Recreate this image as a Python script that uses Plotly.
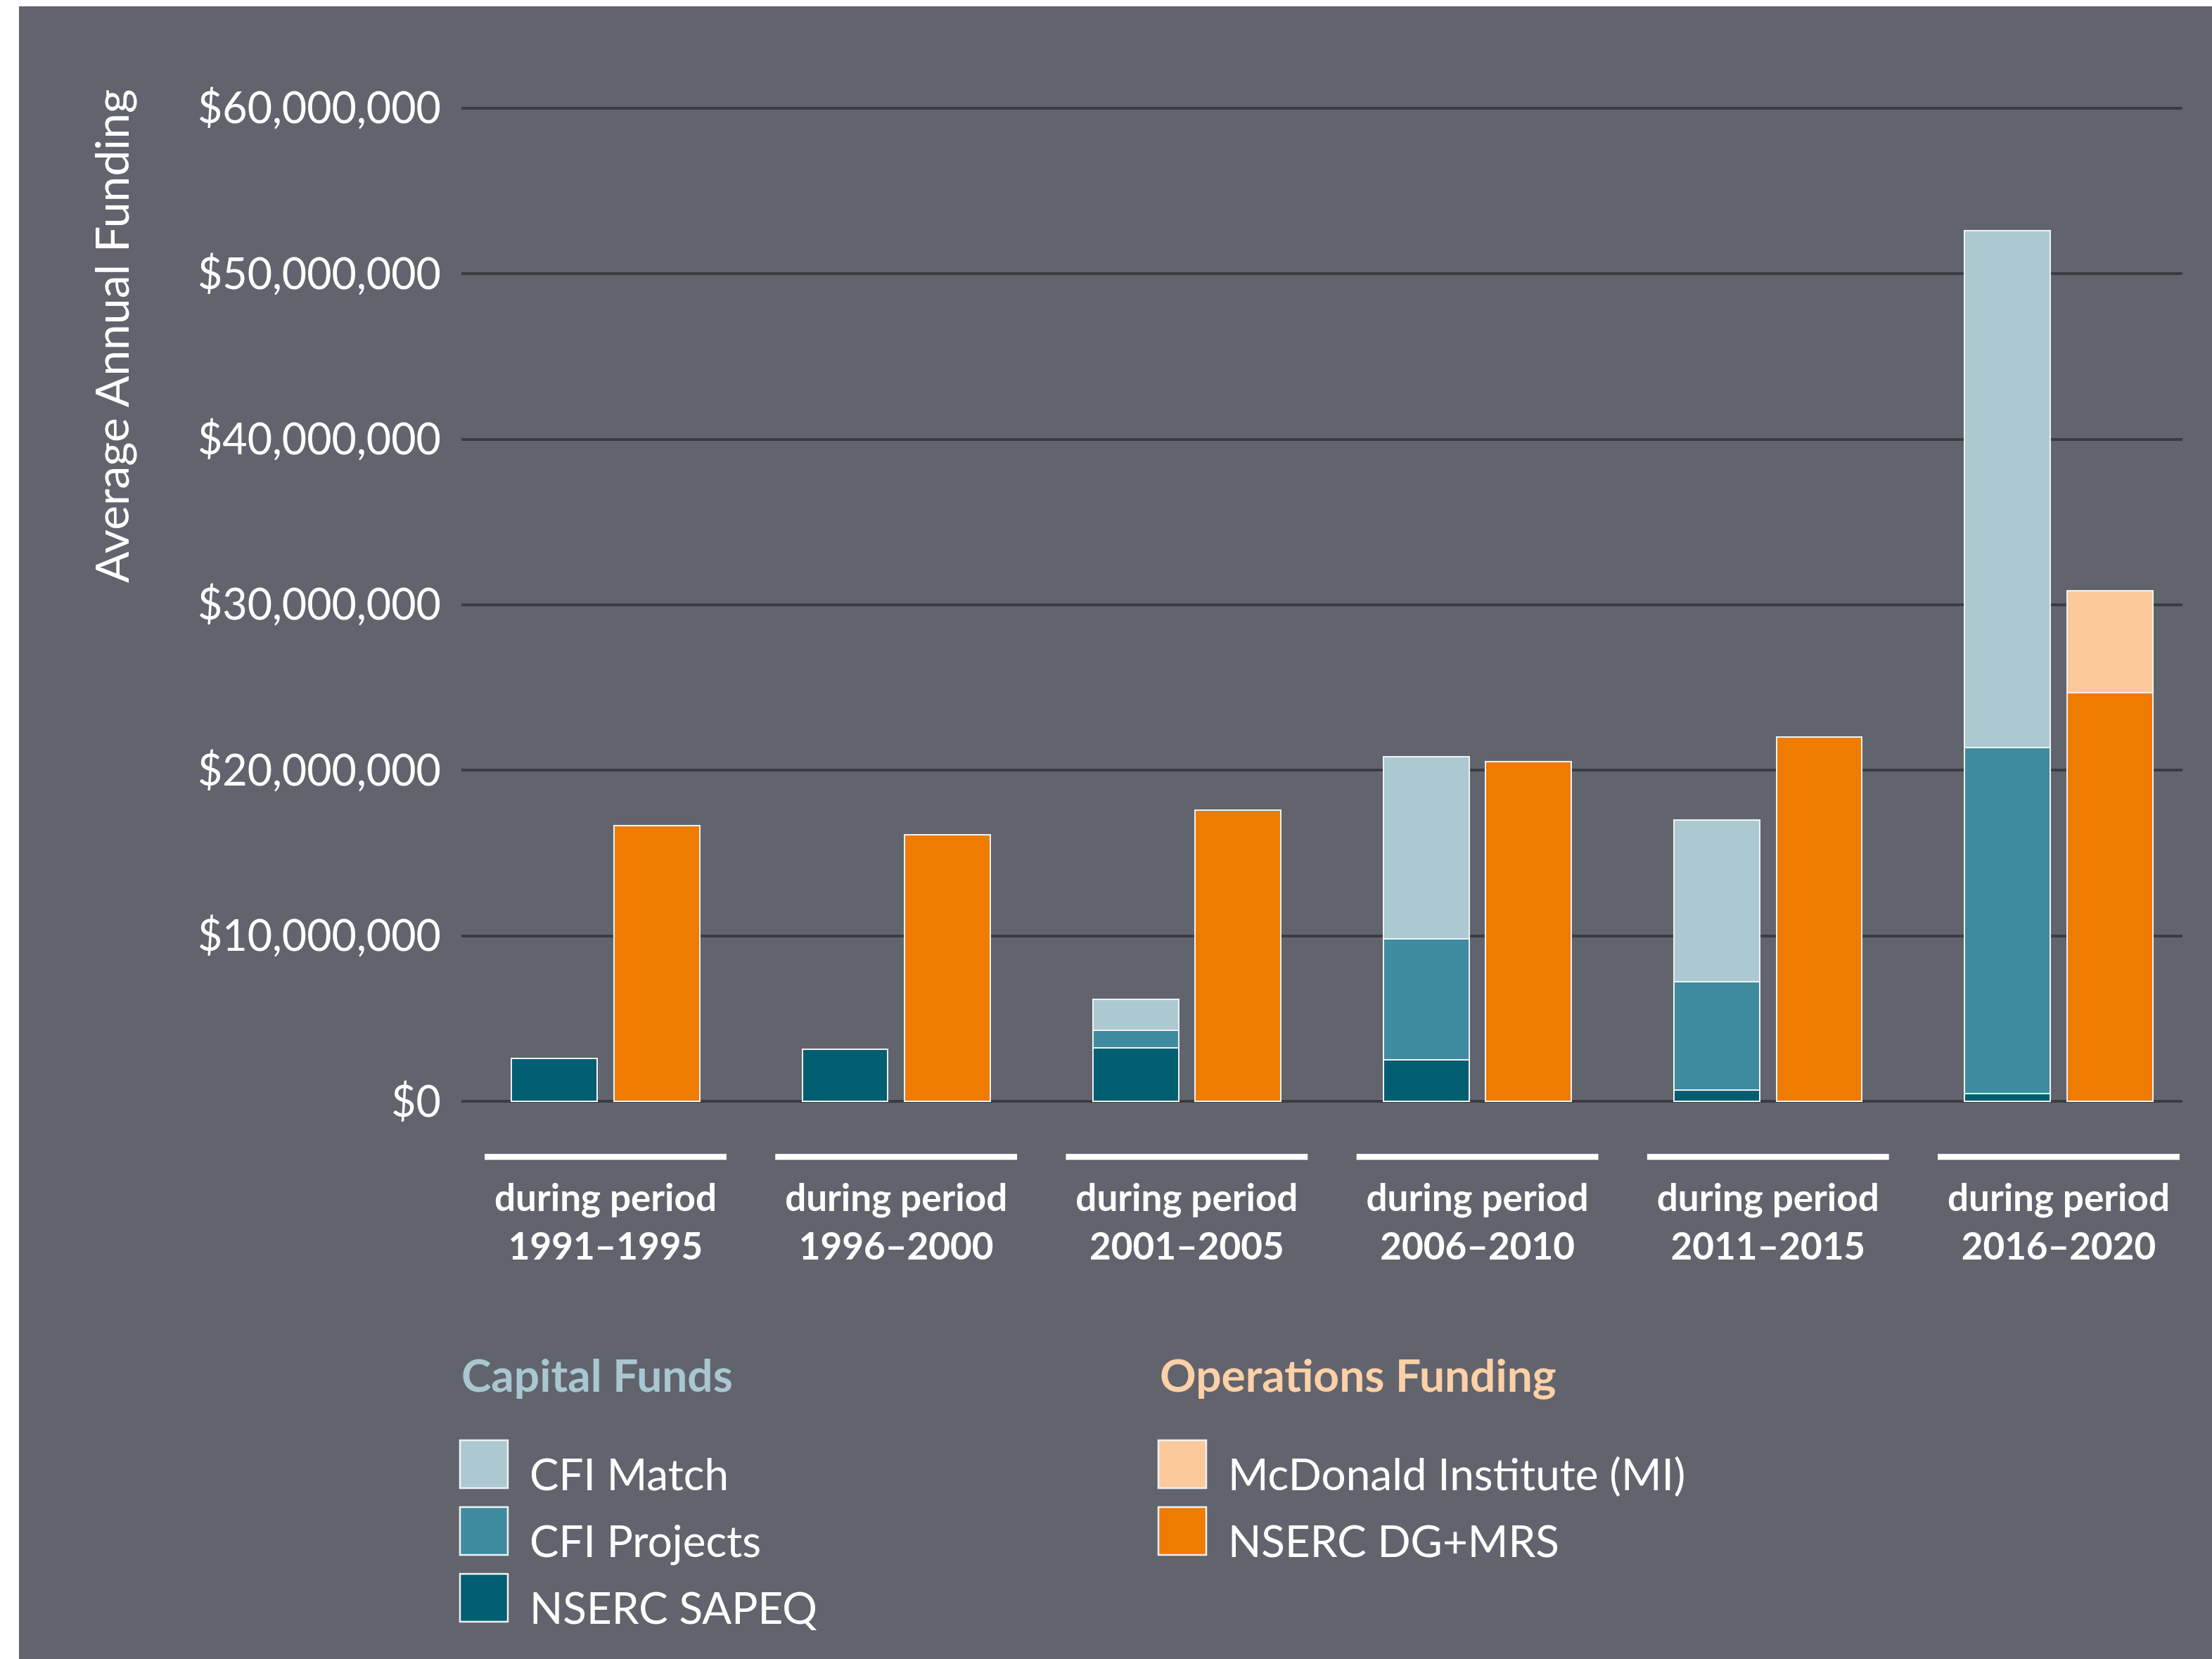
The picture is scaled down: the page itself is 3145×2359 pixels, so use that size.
import plotly.graph_objects as go

# ---- data (average annual funding, CAD) ----
periods = ["1991–1995", "1996–2000", "2001–2005", "2006–2010", "2011–2015", "2016–2020"]

nserc_sapeq = [2_620_000, 3_160_000, 3_230_000, 2_500_000, 670_000, 490_000]
cfi_projects = [None, None, 1_060_000, 7_310_000, 6_580_000, 20_890_000]
cfi_match = [None, None, 1_870_000, 11_020_000, 9_750_000, 31_210_000]
nserc_dg_mrs = [16_680_000, 16_130_000, 17_580_000, 20_540_000, 22_000_000, 24_670_000]
mcdonald_mi = [None, None, None, None, None, 6_160_000]

y_ticks = [0, 10_000_000, 20_000_000, 30_000_000, 40_000_000, 50_000_000, 60_000_000]
y_tick_labels = [f"${v:,}" for v in y_ticks]

capital_names = ["CFI Match", "CFI Projects", "NSERC SAPEQ"]
capital_colors = ["#acc9d2", "#3f8b9f", "#015f71"]
operations_names = ["McDonald Institute (MI)", "NSERC DG+MRS"]
operations_colors = ["#fcc99a", "#ef7b00"]

# ---- styling ----
W, H = 3145, 2359
BG = "#61646d"
GRID = "#3b3c41"
EDGE = "#eef2f3"
FONT = "Lato"

PLOT_L, PLOT_R, PLOT_T, PLOT_B = 656, 3103, 142, 1578
X_RANGE = [-0.4961, 5.426]
Y_RANGE = [-500_000, 60_500_000]
BAR_W = 0.295
OFFSET = 0.176


def px_x(px):
    return (px - PLOT_L) / (PLOT_R - PLOT_L)


def px_y(py):
    return (PLOT_B - py) / (PLOT_B - PLOT_T)


idx = list(range(len(periods)))
x_cap = [i - OFFSET for i in idx]
x_ops = [i + OFFSET for i in idx]

fig = go.Figure()

# capital funds stack (bottom to top)
for name, vals, color in [
    ("NSERC SAPEQ", nserc_sapeq, capital_colors[2]),
    ("CFI Projects", cfi_projects, capital_colors[1]),
    ("CFI Match", cfi_match, capital_colors[0]),
]:
    fig.add_trace(go.Bar(
        x=x_cap, y=vals, name=name, width=BAR_W,
        marker=dict(color=color, line=dict(color=EDGE, width=2.5)),
        showlegend=False,
    ))

# operations funding stack (bottom to top)
for name, vals, color in [
    ("NSERC DG+MRS", nserc_dg_mrs, operations_colors[1]),
    ("McDonald Institute (MI)", mcdonald_mi, operations_colors[0]),
]:
    fig.add_trace(go.Bar(
        x=x_ops, y=vals, name=name, width=BAR_W,
        marker=dict(color=color, line=dict(color=EDGE, width=2.5)),
        showlegend=False,
    ))

shapes = []
annotations = []

# white strips along the top and left edges
shapes.append(dict(type="rect", xref="paper", yref="paper",
                   x0=px_x(0), x1=px_x(W), y0=px_y(9), y1=px_y(-5),
                   fillcolor="white", line=dict(width=0), layer="below"))
shapes.append(dict(type="rect", xref="paper", yref="paper",
                   x0=px_x(-5), x1=px_x(27), y0=px_y(H + 5), y1=px_y(-5),
                   fillcolor="white", line=dict(width=0), layer="below"))

# underline above each period label
for i in idx:
    shapes.append(dict(type="line", xref="x", yref="paper",
                       x0=i - 0.416, x1=i + 0.416,
                       y0=px_y(1645), y1=px_y(1645),
                       line=dict(color="white", width=8.5)))

# y-axis title
annotations.append(dict(
    text="Average Annual Funding", xref="paper", yref="paper",
    x=px_x(157), y=px_y(478), xanchor="center", yanchor="middle",
    textangle=-90, showarrow=False,
    font=dict(family=FONT, size=66, color="white"),
))

# legend: two groups with titles
groups = [
    ("Capital Funds", "#a9c7d0", 654, capital_names, capital_colors),
    ("Operations Funding", "#fdd0a7", 1647, operations_names, operations_colors),
]
SQ = 68
ROW0 = 2048
PITCH = 95
for title, tcolor, x0, names, colors in groups:
    annotations.append(dict(
        text=title, xref="paper", yref="paper",
        x=px_x(x0), y=px_y(1954), xanchor="left", yanchor="middle",
        showarrow=False,
        font=dict(family=FONT, size=64, color=tcolor, weight=700),
    ))
    for k, (name, color) in enumerate(zip(names, colors)):
        top = ROW0 + k * PITCH
        shapes.append(dict(type="rect", xref="paper", yref="paper",
                           x0=px_x(x0), x1=px_x(x0 + SQ),
                           y0=px_y(top + SQ), y1=px_y(top),
                           fillcolor=color, line=dict(color=EDGE, width=2.5)))
        annotations.append(dict(
            text=name, xref="paper", yref="paper",
            x=px_x(x0 + 97), y=px_y(top + 47), xanchor="left", yanchor="middle",
            showarrow=False,
            font=dict(family=FONT, size=62, color="white"),
        ))

fig.update_layout(
    width=W, height=H,
    margin=dict(l=PLOT_L, r=W - PLOT_R, t=PLOT_T, b=H - PLOT_B, pad=0),
    paper_bgcolor=BG, plot_bgcolor=BG,
    barmode="stack",
    bargap=0,
    font=dict(family=FONT, color="white"),
    shapes=shapes,
    annotations=annotations,
    showlegend=False,
    xaxis=dict(
        range=X_RANGE, showgrid=False, zeroline=False, showline=False,
        tickvals=idx,
        ticktext=[f"during period<br>{p}" for p in periods],
        ticks="", ticklabelstandoff=90,
        tickfont=dict(family=FONT, size=53, color="white", weight=700),
    ),
    yaxis=dict(
        range=Y_RANGE, tickvals=y_ticks, ticktext=y_tick_labels,
        showgrid=True, gridcolor=GRID, gridwidth=4,
        zeroline=False, showline=False, ticks="",
        ticklabelstandoff=28,
        tickfont=dict(family=FONT, size=61, color="white"),
    ),
)

fig.write_html("out.html")
